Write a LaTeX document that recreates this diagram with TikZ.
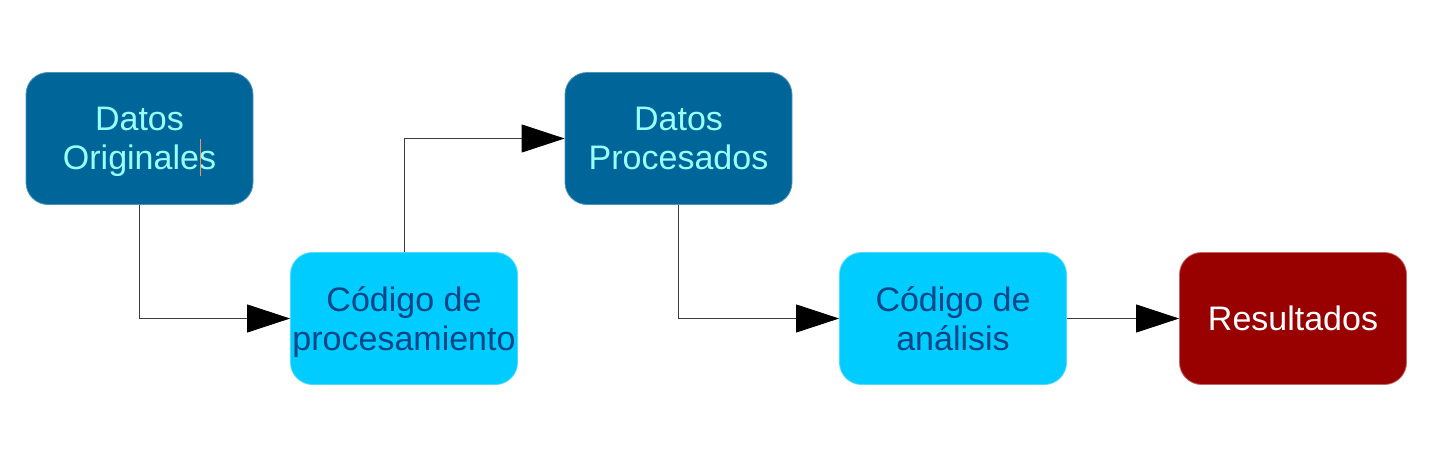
\documentclass[tikz,border=0pt]{standalone}
\usepackage{fontspec}
\setmainfont{Liberation Sans}
\usetikzlibrary{arrows.meta}
\definecolor{darkblue}{RGB}{0,102,153}
\definecolor{lightcyan}{RGB}{153,255,255}
\definecolor{skyblue}{RGB}{0,204,255}
\definecolor{navytext}{RGB}{0,69,134}
\definecolor{darkred}{RGB}{153,0,0}
\definecolor{linegray}{RGB}{60,60,60}
\definecolor{cursorcol}{RGB}{240,150,90}
\tikzset{
  box/.style={rectangle, rounded corners=22pt, minimum width=227pt, minimum height=132pt,
    inner sep=0pt, align=center, text depth=0pt, font=\fontsize{34}{39}\selectfont},
  databox/.style={box, fill=darkblue, draw=darkblue!70!white, line width=0.8pt, text=lightcyan},
  codebox/.style={box, fill=skyblue, draw=skyblue!70!white, line width=0.8pt, text=navytext},
  resbox/.style={box, fill=darkred, draw=darkred!60!white, line width=0.8pt, text=white},
  conn/.style={draw=linegray, line width=0.9pt, -{Triangle[length=43pt,width=28pt,fill=black,color=black]}}
}
\begin{document}
\begin{tikzpicture}[x=1pt,y=-1pt]
\useasboundingbox (0,0) rectangle (1433,471);
\node[databox] (o) at (139.5,138.5) {Datos\\Originales};
\node[codebox] (p) at (404,318.5) {Código de\\procesamiento};
\node[databox] (dp) at (678.5,138.5) {Datos\\Procesados};
\node[codebox] (a) at (953,318.5) {Código de\\análisis};
\node[resbox] (r) at (1293,318.5) {Resultados};
\draw[conn] (o.south) |- (p.west);
\draw[conn] (p.north) |- (dp.west);
\draw[conn] (dp.south) |- (a.west);
\draw[conn] (a.east) -- (r.west);
\draw[cursorcol, line width=1.5pt] (200.5,139) -- (200.5,176);
\end{tikzpicture}
\end{document}
